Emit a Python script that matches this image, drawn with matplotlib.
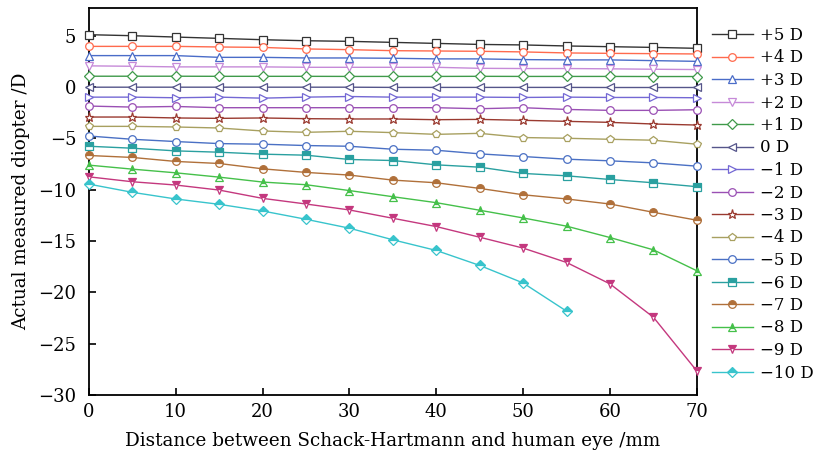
import numpy as np
import matplotlib
matplotlib.use('Agg')
import matplotlib.pyplot as plt

plt.rcParams['font.family'] = ['DejaVu Serif']

distance = [0, 5, 10, 15, 20, 25, 30, 35, 40, 45, 50, 55, 60, 65, 70]

p5 = [5.12, 5.02, 4.89, 4.76, 4.63, 4.53, 4.47, 4.37, 4.27, 4.17, 4.12, 4.02, 3.95, 3.88, 3.79]
p4 = [3.98, 3.98, 3.98, 3.92, 3.88, 3.73, 3.66, 3.56, 3.53, 3.50, 3.44, 3.34, 3.30, 3.27, 3.24]
p3 = [3.08, 3.08, 3.08, 2.91, 2.91, 2.85, 2.85, 2.82, 2.76, 2.76, 2.69, 2.66, 2.66, 2.59, 2.52]
p2 = [2.08, 2.04, 1.98, 1.98, 1.98, 1.94, 1.94, 1.94, 1.94, 1.84, 1.82, 1.82, 1.79, 1.75, 1.72]
p1 = [1.07, 1.07, 1.07, 1.06, 1.06, 1.06, 1.05, 1.05, 1.05, 1.06, 1.05, 1.05, 1.05, 1.04, 1.04]
z0 = [0.0, 0.0, 0.0, 0.0, 0.0, 0.0, 0.0, -0.02, -0.02, -0.02, -0.02, -0.02, -0.03, -0.03, -0.03]
m1 = [-0.97, -0.97, -1.03, -0.97, -1.07, -0.97, -0.91, -0.97, -0.97, -0.97, -1.0, -0.97, -1.0, -1.0, -1.03]
m2 = [-1.84, -1.94, -1.88, -2.0, -2.0, -2.0, -2.0, -2.0, -2.0, -2.1, -2.0, -2.17, -2.26, -2.26, -2.2]
m3 = [-2.91, -2.91, -3.0, -3.04, -3.0, -3.07, -3.1, -3.1, -3.17, -3.14, -3.23, -3.33, -3.43, -3.59, -3.69]
m4 = [-3.82, -3.82, -3.88, -3.98, -4.27, -4.40, -4.30, -4.43, -4.60, -4.50, -4.91, -4.98, -5.08, -5.17, -5.56]
m5 = [-4.76, -5.08, -5.30, -5.50, -5.56, -5.69, -5.76, -6.05, -6.15, -6.50, -6.76, -7.02, -7.18, -7.38, -7.70]
m6 = [-5.76, -5.95, -6.21, -6.34, -6.53, -6.63, -7.05, -7.15, -7.57, -7.80, -8.41, -8.64, -9.00, -9.32, -9.70]
m7 = [-6.66, -6.85, -7.24, -7.44, -7.96, -8.31, -8.57, -9.06, -9.32, -9.87, -10.49, -10.90, -11.39, -12.20, -12.97]
m8 = [-7.60, -7.99, -8.35, -8.77, -9.25, -9.51, -10.08, -10.68, -11.26, -12.00, -12.75, -13.55, -14.66, -15.86, -17.90]
m9 = [-8.74, -9.22, -9.54, -10.03, -10.84, -11.39, -11.97, -12.78, -13.59, -14.63, -15.69, -17.09, -19.18, -22.43, -27.67]
m10 = [-9.45, -10.25, -10.90, -11.42, -12.07, -12.88, -13.75, -14.88, -15.92, -17.38, -19.09, -21.84]

series = [p5, p4, p3, p2, p1, z0, m1, m2, m3, m4, m5, m6, m7, m8, m9, m10]
labels = ['+5 D', '+4 D', '+3 D', '+2 D', '+1 D', '0 D', '\u22121 D', '\u22122 D',
          '\u22123 D', '\u22124 D', '\u22125 D', '\u22126 D', '\u22127 D', '\u22128 D',
          '\u22129 D', '\u221210 D']
colors = ['#333333', '#ff6a4d', '#4a6cc8', '#c68ad8', '#3f9a4a', '#55558a', '#7468d4',
          '#9a50b4', '#9a3a30', '#a8a060', '#4a70c4', '#2aa0a0', '#b0703a', '#45c04a',
          '#c4387e', '#38c4cc']
markers = ['s', 'o', '^', 'v', 'D', '<', '>', 'o', '*', 'p', 'o', 's', 'o', '^', 'v', 'D']
fills = ['none'] * 11 + ['top'] * 5

fig = plt.figure(figsize=(8.15, 4.57), dpi=100)
ax = fig.add_axes([0.109, 0.136, 0.746, 0.846])

for y, lab, c, mk, fs in zip(series, labels, colors, markers, fills):
    x = distance[:len(y)]
    ms = 5.5
    if mk == 'D':
        ms = 4.8
    if mk == '*':
        ms = 6.5
    if fs == 'none':
        ax.plot(x, y, color=c, marker=mk, markersize=ms, markerfacecolor='white',
                markeredgecolor=c, markeredgewidth=0.9, linewidth=1, label=lab,
                clip_on=False, zorder=3)
    else:
        ax.plot(x, y, color=c, marker=mk, markersize=ms, fillstyle='top',
                markerfacecolor=c, markerfacecoloralt='white', markeredgecolor=c,
                markeredgewidth=0.9, linewidth=1, label=lab, clip_on=False, zorder=3)

ax.set_xlim(0, 70)
ax.set_ylim(-30, 7.7)
ax.set_xticks(range(0, 71, 10))
ax.set_yticks(range(-30, 6, 5))
ax.tick_params(direction='in', length=5, width=1.2, labelsize=13, top=False, right=False)
ax.tick_params(axis='y', pad=9)
ax.tick_params(axis='x', pad=6)
for s in ax.spines.values():
    s.set_linewidth(1.3)

ax.set_xlabel('Distance between Schack-Hartmann and human eye /mm', fontsize=13.2, labelpad=8)
ax.set_ylabel('Actual measured diopter /D', fontsize=13.2, labelpad=6)

ax.legend(loc='upper left', bbox_to_anchor=(712 / 815, 1 - 27 / 457),
          bbox_transform=fig.transFigure, frameon=False, fontsize=12,
          handlelength=2.45, labelspacing=0.33, borderaxespad=0, borderpad=0,
          handletextpad=0.45)

fig.savefig('out.png', dpi=100)
